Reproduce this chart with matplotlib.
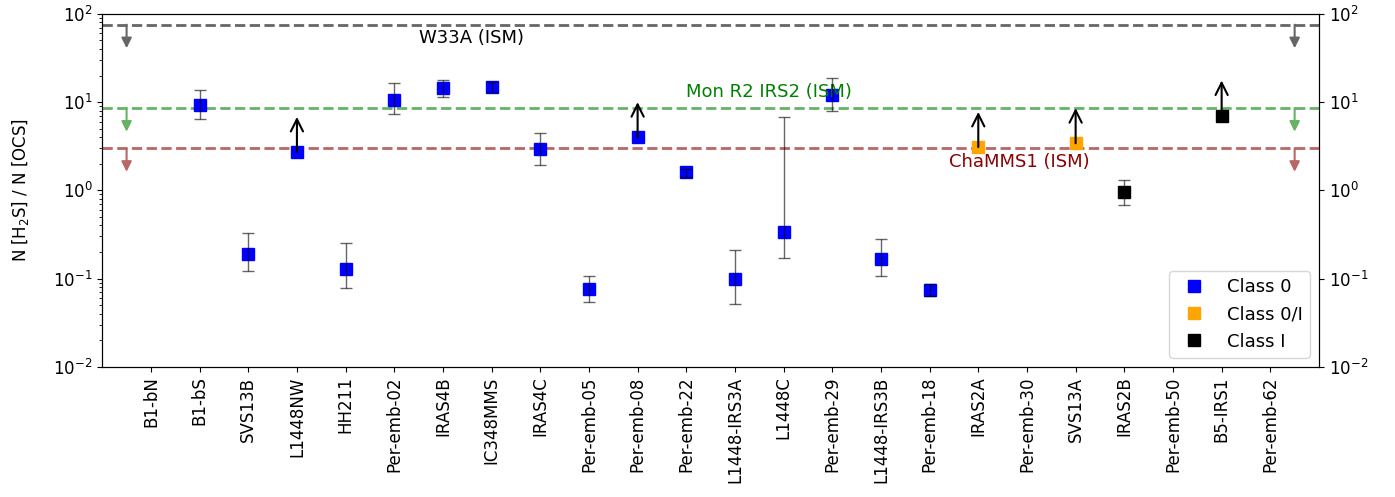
import numpy as np
import matplotlib
matplotlib.use("Agg")
import matplotlib.pyplot as plt

plt.rcParams['font.size'] = 12

# sources along the x axis
names = ["B1-bN", "B1-bS", "SVS13B", "L1448NW", "HH211", "Per-emb-02", "IRAS4B",
         "IC348MMS", "IRAS4C", "Per-emb-05", "Per-emb-08", "Per-emb-22", "L1448-IRS3A",
         "L1448C", "Per-emb-29", "L1448-IRS3B", "Per-emb-18", "IRAS2A", "Per-emb-30",
         "SVS13A", "IRAS2B", "Per-emb-50", "B5-IRS1", "Per-emb-62"]

# N(H2S)/N(OCS), nan = no value
ratio = [np.nan, 9.17, 0.192, 2.72, 0.130, 10.7, 14.4, 15.0, 2.97, 0.0762, 4.0, 1.60,
         0.100, 0.339, 11.9, 0.166, 0.0742, 3.1, np.nan, 3.42, 0.964, np.nan, 7.04, np.nan]
# error bar ends (lower, upper); nan = no error bar
err_low = [np.nan, 6.41, 0.122, np.nan, 0.0776, 7.25, 11.3, 13.1, 1.95, 0.0548, np.nan, 1.43,
           0.0514, 0.169, 8.03, 0.108, 0.0631, np.nan, np.nan, np.nan, 0.686, np.nan, np.nan, np.nan]
err_high = [np.nan, 13.6, 0.325, np.nan, 0.256, 16.3, 17.9, 17.1, 4.48, 0.106, np.nan, 1.73,
            0.211, 6.75, 18.7, 0.278, 0.0868, np.nan, np.nan, np.nan, 1.30, np.nan, np.nan, np.nan]
# lower limits (upward arrows)
lower_limit = [False, False, False, True, False, False, False, False, False, False, True, False,
               False, False, False, False, False, True, False, True, False, False, True, False]
# protostar class
src_class = ["0", "0", "0", "0", "0", "0", "0", "0", "0", "0", "0", "0",
             "0", "0", "0", "0", "0", "0/I", "0/I", "0/I", "I", "I", "I", "I"]

class_names = ["0", "0/I", "I"]
class_labels = ["Class 0", "Class 0/I", "Class I"]
class_colors = ["blue", "orange", "black"]

# ISM reference values (upper limits)
ism_names = ["W33A (ISM)", "Mon R2 IRS2 (ISM)", "ChaMMS1 (ISM)"]
ism_values = [75.5, 8.55, 3.0]
ism_colors = ["#666666", "#66b366", "#b96666"]
ism_text_colors = ["black", "green", "darkred"]
ism_text_pos = [(5.5, 53.4), (11.0, 12.9), (16.4, 2.08)]

x = np.arange(len(names))
ratio = np.array(ratio)
err_low = np.array(err_low)
err_high = np.array(err_high)

fig, ax = plt.subplots(figsize=(13.95, 4.97), dpi=100)
fig.subplots_adjust(left=0.0733, right=0.9455, top=0.972, bottom=0.262)

# markers per class
for cn, lab, col in zip(class_names, class_labels, class_colors):
    m = np.array([c == cn for c in src_class])
    ax.plot(x[m], ratio[m], 's', color=col, ms=9, label=lab, zorder=3)

# error bars
has_err = ~np.isnan(err_low)
yerr = np.vstack([ratio[has_err] - err_low[has_err], err_high[has_err] - ratio[has_err]])
ax.errorbar(x[has_err], ratio[has_err], yerr=yerr, fmt='none', ecolor='k', alpha=0.6,
            elinewidth=1, capsize=4, zorder=4)

# lower limits
for xi, yi, ll in zip(x, ratio, lower_limit):
    if ll:
        ax.annotate('', xy=(xi, yi * 2.5), xytext=(xi, yi),
                    arrowprops=dict(arrowstyle='->', color='k', lw=1.5,
                                    mutation_scale=22, shrinkA=0, shrinkB=0), zorder=5)

# ISM lines with down arrows at both ends
for name, val, col, tcol, (tx, ty) in zip(ism_names, ism_values, ism_colors,
                                          ism_text_colors, ism_text_pos):
    ax.axhline(val, color=col, ls='--', lw=2, zorder=2)
    for xa in (-0.5, 23.5):
        ax.annotate('', xy=(xa, val / 1.85), xytext=(xa, val),
                    arrowprops=dict(arrowstyle='-|>', color=col, lw=1.5,
                                    mutation_scale=15, shrinkA=0, shrinkB=0))
    ax.text(tx, ty, name, color=tcol, va='center', ha='left', fontsize=13)

ax.set_yscale('log')
ax.set_ylim(1e-2, 1e2)
ax.set_xlim(-1, 24)
ax.set_xticks(x)
ax.set_xticklabels(names, rotation=90)
ax.set_ylabel("N [H$_2$S] / N [OCS]", labelpad=16)
ax.legend(loc='lower right', numpoints=1, fontsize=13)

ax2 = ax.twinx()
ax2.set_yscale('log')
ax2.set_ylim(1e-2, 1e2)
ax2.tick_params(which='minor', length=0)

fig.savefig("out.png", dpi=100)
